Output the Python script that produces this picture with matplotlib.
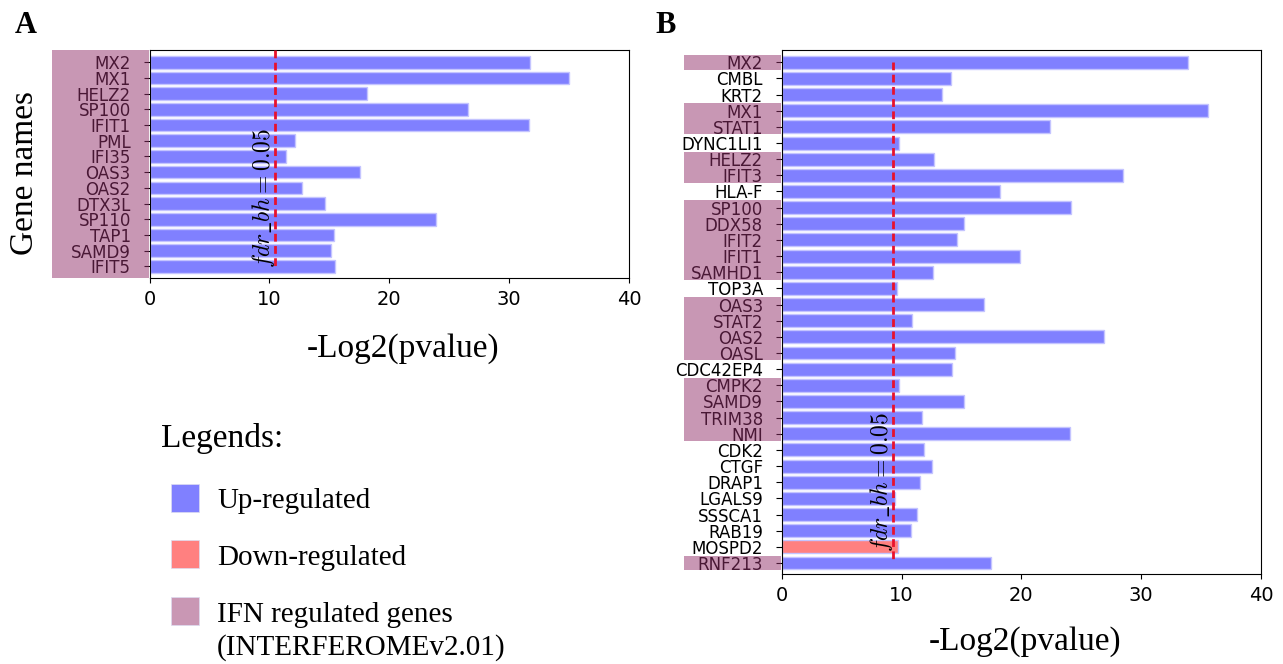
import matplotlib
matplotlib.use("Agg")
import matplotlib.pyplot as plt
import matplotlib.transforms as mtransforms
from matplotlib.patches import Rectangle

# panel A
genes_a = ['MX2', 'MX1', 'HELZ2', 'SP100', 'IFIT1', 'PML', 'IFI35', 'OAS3',
           'OAS2', 'DTX3L', 'SP110', 'TAP1', 'SAMD9', 'IFIT5']
vals_a = [31.7, 35.0, 18.15, 26.6, 31.65, 12.1, 11.4, 17.6,
          12.75, 14.65, 23.9, 15.4, 15.1, 15.5]
thr_a = 10.45

# panel B
genes_b = ['MX2', 'CMBL', 'KRT2', 'MX1', 'STAT1', 'DYNC1LI1', 'HELZ2', 'IFIT3',
           'HLA-F', 'SP100', 'DDX58', 'IFIT2', 'IFIT1', 'SAMHD1', 'TOP3A', 'OAS3',
           'STAT2', 'OAS2', 'OASL', 'CDC42EP4', 'CMPK2', 'SAMD9', 'TRIM38', 'NMI',
           'CDK2', 'CTGF', 'DRAP1', 'LGALS9', 'SSSCA1', 'RAB19', 'MOSPD2', 'RNF213']
vals_b = [33.9, 14.1, 13.35, 35.6, 22.35, 9.8, 12.75, 28.5,
          18.2, 24.15, 15.2, 14.6, 19.85, 12.65, 9.6, 16.9,
          10.9, 26.9, 14.45, 14.25, 9.8, 15.25, 11.7, 24.1,
          11.9, 12.55, 11.55, 9.45, 11.25, 10.75, 9.7, 17.45]
ifn_b = [1, 0, 0, 1, 1, 0, 1, 1, 0, 1, 1, 1, 1, 1, 0, 1,
         1, 1, 1, 0, 1, 1, 1, 1, 0, 0, 0, 0, 0, 0, 0, 1]
down_b = ['MOSPD2']
thr_b = 9.32

UP = '#8080ff'
DOWN = '#ff8080'
IFN = '#c997b4'
IFN_OVER = '#93306b'   # drawn at alpha .5 over labels -> pink bg + maroon text
RED = '#e8112d'
SERIF = 'Liberation Serif'

plt.rcParams['mathtext.fontset'] = 'cm'

fig = plt.figure(figsize=(12.83, 6.64), dpi=100)
W, H = 1283, 664


def fx(px):
    return px / W


def fy(py):
    return 1 - py / H


def panel(ax, genes, vals, colors, thr, ylim, line_span, text_y):
    y = list(range(len(genes)))
    ax.barh(y, vals, height=0.8, color=colors, edgecolor='#c4c4ff',
            linewidth=1.0, zorder=2)
    ax.set_yticks(y)
    ax.set_yticklabels(genes, fontsize=12)
    ax.tick_params(axis='y', length=4.5, pad=9)
    ax.set_ylim(*ylim)
    ax.set_xlim(0, 40)
    ax.set_xticks([0, 10, 20, 30, 40])
    ax.tick_params(axis='x', labelsize=14, pad=5)
    ax.vlines(thr, line_span[0], line_span[1], colors=RED, linestyles=(0, (2.8, 1.6)),
              linewidth=2, zorder=3)
    ax.text(thr + 0.15, text_y, r'$fdr\_bh = 0.05$', rotation=90,
            ha='right', va='bottom', fontsize=17, zorder=4)


# --- A ---
axA = fig.add_axes([fx(149.5), fy(278), fx(629) - fx(149.5), fy(50) - fy(278)])
panel(axA, genes_a, vals_a, [UP] * len(genes_a), thr_a, (13.74, -0.78),
      (-0.8, 13.0), 13.1)
axA.add_patch(Rectangle((-0.203, 0), 0.2025, 1.0, transform=axA.transAxes,
                        facecolor=IFN_OVER, alpha=0.5, edgecolor='none',
                        clip_on=False, zorder=10))

# --- B ---
axB = fig.add_axes([fx(781.7), fy(574), fx(1261) - fx(781.7), fy(50) - fy(574)])
colors_b = [DOWN if g in down_b else UP for g in genes_b]
panel(axB, genes_b, vals_b, colors_b, thr_b, (31.68, -0.76), (0, 31), 30.3)
transB = mtransforms.blended_transform_factory(axB.transAxes, axB.transData)
i = 0
while i < len(ifn_b):
    if ifn_b[i]:
        j = i
        while j + 1 < len(ifn_b) and ifn_b[j + 1]:
            j += 1
        axB.add_patch(Rectangle((-0.203, i - 0.46), 0.2025, (j - i) + 0.92,
                                transform=transB, facecolor=IFN_OVER, alpha=0.5,
                                edgecolor='none', clip_on=False, zorder=10))
        i = j + 1
    else:
        i += 1

# axis titles
fig.text(fx(403), fy(357), '-Log2(pvalue)', family=SERIF, fontsize=24,
         ha='center', va='baseline')
fig.text(fx(1025), fy(650), '-Log2(pvalue)', family=SERIF, fontsize=24,
         ha='center', va='baseline')
fig.text(fx(25), fy(173), 'Gene names', family=SERIF, fontsize=24,
         rotation=90, ha='center', va='center')

# panel letters
fig.text(fx(15), fy(33), 'A', family=SERIF, fontsize=22, fontweight='bold',
         va='baseline')
fig.text(fx(655), fy(33), 'B', family=SERIF, fontsize=22, fontweight='bold',
         va='baseline')

# legend
fig.text(fx(161), fy(446.7), 'Legends:', family=SERIF, fontsize=24, va='baseline')
legend_items = [(UP, ['Up-regulated'], 483.5, 508.3),
                (DOWN, ['Down-regulated'], 540, 565),
                (IFN, ['IFN regulated genes', '(INTERFEROMEv2.01)'], 596.7, 621.7)]
for col, lines, top, base in legend_items:
    fig.patches.append(Rectangle((fx(171), fy(top + 28.3)), fx(28.3), 28.3 / H,
                                 transform=fig.transFigure, facecolor=col,
                                 edgecolor='#dcdcf0', linewidth=0.5))
    for k, ln in enumerate(lines):
        fig.text(fx(217), fy(base + 33 * k), ln, family=SERIF, fontsize=21,
                 va='baseline')

fig.savefig('out.png', dpi=100)
